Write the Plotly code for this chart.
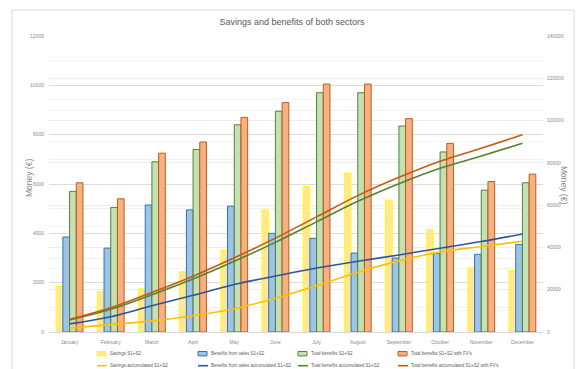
import plotly.graph_objects as go

months = ["January", "February", "March", "April", "May", "June", "July",
          "August", "September", "October", "November", "December"]

# monthly values (€), left axis
savings = [1850, 1650, 1750, 2450, 3300, 4950, 5900, 6450, 5350, 4150, 2600, 2500]
sales_benefits = [3850, 3400, 5150, 4950, 5100, 4000, 3800, 3200, 3000, 3200, 3150, 3550]
total_benefits = [5700, 5050, 6900, 7400, 8400, 8950, 9700, 9700, 8350, 7300, 5750, 6050]
total_benefits_fv = [6050, 5400, 7250, 7700, 8700, 9300, 10050, 10050, 8650, 7650, 6100, 6400]

# accumulated values (€), right axis
savings_acc = [1850, 3500, 5250, 7700, 11000, 15950, 21850, 28300, 33650, 37800, 40400, 42900]
sales_benefits_acc = [3850, 7250, 12400, 17350, 22450, 26450, 30250, 33450, 36450, 39650, 42800, 46350]
total_benefits_acc = [5700, 10750, 17650, 25050, 33450, 42400, 52100, 61800, 70150, 77450, 83200, 89250]
total_benefits_fv_acc = [6050, 11450, 18700, 26400, 35100, 44400, 54450, 64500, 73150, 80800, 86900, 93300]

left_ticks = [0, 2000, 4000, 6000, 8000, 10000, 12000]
right_ticks = [0, 20000, 40000, 60000, 80000, 100000, 120000, 140000]

FONT = "Liberation Sans, Arial, sans-serif"
GRAY = "#8a8a8a"

bars = [
    ("Savings S1+S2", savings, "#FFE699", "#FFFF00"),
    ("Benefits from sales S1+S2", sales_benefits, "#9DC3E6", "#2E75B6"),
    ("Total benefits S1+S2", total_benefits, "#C5E0B4", "#548235"),
    ("Total benefits S1+S2 with FV's", total_benefits_fv, "#F4B183", "#C55A11"),
]
lines = [
    ("Savings accumulated S1+S2", savings_acc, "#FFC000"),
    ("Benefits from sales accumulated S1+S2", sales_benefits_acc, "#2F5597"),
    ("Total benefits accumulated S1+S2", total_benefits_acc, "#548235"),
    ("Total benefits accumulated S1+S2 with FV's", total_benefits_fv_acc, "#C55A11"),
]

fig = go.Figure()
for name, vals, fill, edge in bars:
    fig.add_trace(go.Bar(
        x=months, y=vals, name=name, yaxis="y",
        marker=dict(color=fill, line=dict(color=edge, width=1)),
    ))
for name, vals, color in lines:
    fig.add_trace(go.Scatter(
        x=months, y=vals, name=name, yaxis="y2",
        mode="lines", line=dict(color=color, width=1.6, shape="spline"),
    ))

# plot area in pixels: x 49..543, y 36..332
W, H = 584, 369
L, R, T, B = 49, 41, 36, 37
pw, ph = W - L - R, H - T - B


def px_x(x):
    return (x - L) / pw


def px_y(y):
    return (H - B - y) / ph


fig.update_layout(
    width=W, height=H,
    margin=dict(l=L, r=R, t=T, b=B, autoexpand=False),
    paper_bgcolor="white", plot_bgcolor="white",
    barmode="group", bargap=0.35, bargroupgap=0,
    showlegend=False,
    title=dict(text="Savings and benefits of both sectors",
               x=0.5, xanchor="center", y=1 - 22 / H, yanchor="middle",
               font=dict(family=FONT, size=9, color="#595959")),
    xaxis=dict(
        tickfont=dict(family=FONT, size=5, color=GRAY),
        showgrid=False, ticks="", showline=True, ticklabelstandoff=5,
        linecolor="#d9d9d9", linewidth=1,
    ),
    yaxis=dict(
        range=[0, 12000], tickvals=left_ticks,
        ticktext=[str(v) for v in left_ticks],
        tickfont=dict(family=FONT, size=5, color=GRAY), ticklabelstandoff=4,
        showgrid=True, gridcolor="#dcdcdc", gridwidth=1,
        minor=dict(dtick=1000, showgrid=True, gridcolor="#f0f0f0", gridwidth=1),
        zeroline=False, ticks="", showline=False,
    ),
    yaxis2=dict(
        range=[0, 140000], tickvals=right_ticks,
        ticktext=[str(v) for v in right_ticks],
        overlaying="y", side="right",
        tickfont=dict(family=FONT, size=5, color=GRAY), ticklabelstandoff=3,
        showgrid=True, gridcolor="#ececec", gridwidth=1,
        minor=dict(dtick=10000, showgrid=True, gridcolor="#f4f4f4", gridwidth=1),
        zeroline=False, ticks="", showline=False,
    ),
)

# legend: two rows of four entries below the plot
col_x = [97, 198, 298, 398]
row_bar_y, row_line_y = 353.7, 365.7
for (name, _, fill, edge), cx in zip(bars, col_x):
    fig.add_shape(type="rect", xref="paper", yref="paper",
                  x0=px_x(cx), x1=px_x(cx + 9),
                  y0=px_y(row_bar_y + 2.2), y1=px_y(row_bar_y - 2.2),
                  fillcolor=fill, line=dict(color=edge, width=1))
    fig.add_annotation(text=name, xref="paper", yref="paper",
                       x=px_x(cx + 11), y=px_y(row_bar_y),
                       xanchor="left", yanchor="middle", showarrow=False,
                       font=dict(family=FONT, size=4.5, color="#595959"))
for (name, _, color), cx in zip(lines, col_x):
    fig.add_shape(type="line", xref="paper", yref="paper",
                  x0=px_x(cx), x1=px_x(cx + 10),
                  y0=px_y(row_line_y), y1=px_y(row_line_y),
                  line=dict(color=color, width=1.6))
    fig.add_annotation(text=name, xref="paper", yref="paper",
                       x=px_x(cx + 11), y=px_y(row_line_y),
                       xanchor="left", yanchor="middle", showarrow=False,
                       font=dict(family=FONT, size=4.5, color="#595959"))

# axis titles
fig.add_annotation(text="Money (€)", xref="paper", yref="paper",
                   x=px_x(22), y=px_y(178), showarrow=False, textangle=-90,
                   font=dict(family=FONT, size=8.5, color=GRAY))
fig.add_annotation(text="Money (€)", xref="paper", yref="paper",
                   x=px_x(571), y=px_y(185), showarrow=False, textangle=90,
                   font=dict(family=FONT, size=8.5, color=GRAY))

# chart frame
fig.add_shape(type="rect", xref="paper", yref="paper",
              x0=px_x(12), x1=px_x(574), y0=px_y(390), y1=px_y(10),
              line=dict(color="#d9d9d9", width=1), layer="below")

fig.write_html("out.html")
